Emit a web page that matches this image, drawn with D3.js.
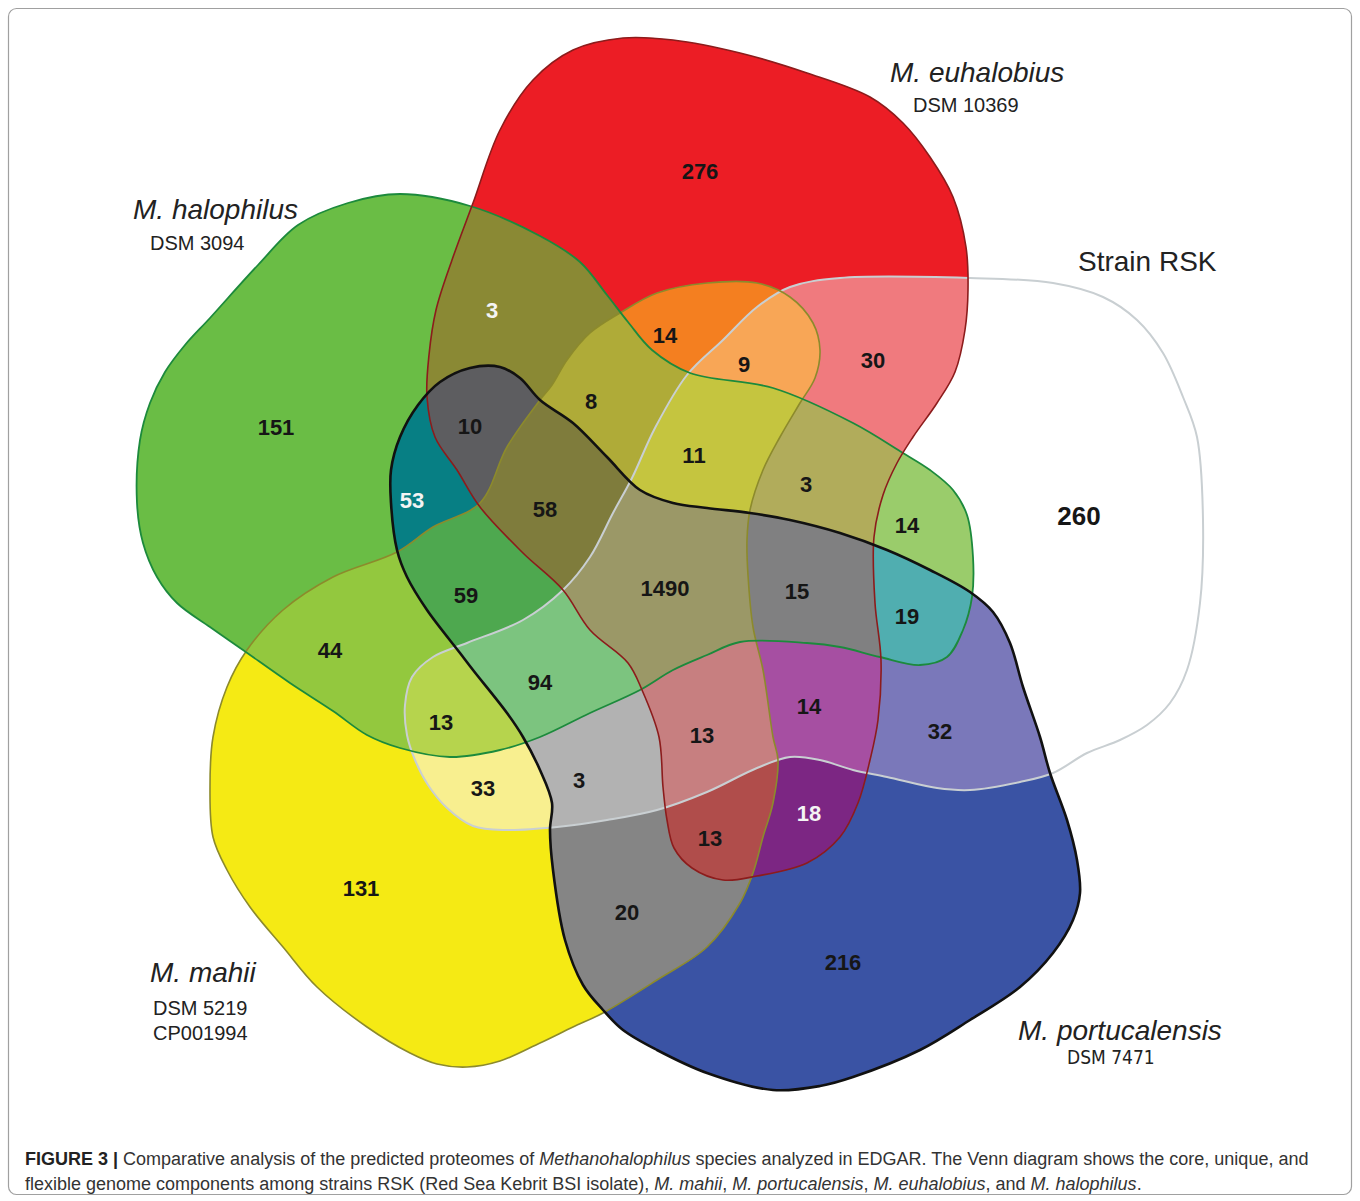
<!DOCTYPE html>
<html>
<head>
<meta charset="utf-8">
<script src="https://cdn.jsdelivr.net/npm/d3@7"></script>
<style>
  body { margin: 0; background: #fff; }
  svg { display: block; font-family: "Liberation Sans", Arial, sans-serif; }
</style>
</head>
<body>
<div id="venn"></div>
<script>
// sets: A = M. halophilus, B = M. euhalobius, C = Strain RSK, D = M. portucalensis, E = M. mahii
var setKeys = ["A", "B", "C", "D", "E"];
var setNames = ["M. halophilus", "M. euhalobius", "Strain RSK", "M. portucalensis", "M. mahii"];
var setStrains = [["DSM 3094"], ["DSM 10369"], [], ["DSM 7471"], ["DSM 5219", "CP001994"]];

// one entry per region of the diagram: which sets it belongs to, and the protein count
var regionSets = ["A", "B", "C", "D", "E",
  "AB", "AC", "AD", "AE", "BC", "BD", "BE", "CD", "CE", "DE",
  "ABC", "ABD", "ABE", "ACD", "ACE", "ADE", "BCD", "BCE", "BDE", "CDE",
  "ABCD", "ABCE", "ABDE", "ACDE", "BCDE",
  "ABCDE"];
var regionCounts = [151, 276, 260, 216, 131,
  3, 14, 53, 44, 30, 18, 14, 32, 33, 20,
  3, 10, 8, 19, 13, 59, 14, 9, 13, 3,
  15, 11, 58, 94, 13,
  1490];

// ---- layout / styling (not data) ----
var W = 1360, H = 1201;

// outline points of each set
var shapes = {
  A: [[400,194],[470,206],[540,236],[580,262],[607,295],[628,322],[652,350],[690,373],[773,388],[853,423],
      [903,453],[930,470],[953,490],[967,515],[973,557],[972,597],[963,630],[947,657],[920,665],[880,657],
      [840,647],[807,643],[740,642],[707,655],[673,670],[640,690],[590,713],[540,737],[500,750],[450,757],
      [400,748],[367,735],[333,711],[290,683],[243,650],[210,627],[177,603],[157,577],[143,543],[137,503],
      [140,440],[150,403],[165,372],[185,345],[210,318],[258,265],[298,225],[348,203]],
  B: [[473,203],[500,130],[533,80],[573,50],[623,38],[673,40],[740,53],[807,73],[870,97],[903,123],
      [930,157],[953,197],[966,247],[968,290],[965,330],[955,372],[937,403],[913,437],[897,463],[883,495],
      [874,537],[875,603],[881,660],[878,720],[870,760],[858,803],[840,837],[807,863],[757,876],[723,880],
      [692,868],[674,848],[667,820],[663,787],[659,737],[642,690],[628,663],[590,630],[563,590],[523,553],
      [480,507],[457,470],[435,437],[427,397],[429,355],[436,310],[452,260]],
  C: [[687,375],[723,340],[757,307],[790,287],[840,278],[970,278],[1053,283],[1103,297],[1137,320],[1163,353],
      [1183,397],[1197,437],[1203,520],[1200,603],[1187,670],[1170,703],[1147,725],[1120,740],[1087,753],[1053,773],
      [1020,782],[970,790],[937,788],[887,777],[853,770],[820,760],[790,757],[757,768],[707,792],[657,810],
      [607,820],[557,827],[507,830],[473,826],[447,808],[428,785],[415,760],[407,735],[405,705],[412,677],
      [433,657],[467,643],[523,620],[563,590],[590,557],[613,513],[632,478],[655,428]],
  D: [[470,368],[500,367],[520,378],[540,400],[573,423],[607,457],[640,490],[673,503],[707,508],[750,513],
      [790,520],[840,533],[887,550],[930,570],[970,592],[993,612],[1010,643],[1023,687],[1040,737],[1050,773],
      [1067,820],[1077,860],[1080,893],[1073,920],[1053,953],[1020,987],[970,1020],[920,1050],[853,1077],[820,1086],
      [773,1090],[707,1073],[657,1050],[623,1030],[603,1010],[583,985],[565,940],[553,870],[550,830],[552,803],
      [540,770],[523,737],[507,713],[473,670],[460,653],[427,610],[407,577],[397,550],[391,503],[391,470],
      [400,437],[418,405],[440,382]],
  E: [[620,313],[657,293],[707,283],[757,283],[790,297],[813,323],[820,350],[815,378],[800,403],[780,437],
      [763,470],[750,510],[747,540],[748,575],[753,627],[763,670],[773,737],[778,760],[773,803],[763,837],
      [753,873],[740,903],[707,947],[657,980],[603,1013],[573,1027],[540,1043],[500,1061],[467,1067],[437,1064],
      [410,1053],[367,1027],[317,987],[283,947],[250,907],[227,870],[213,837],[210,787],[213,737],[227,687],[247,650],
      [283,610],[333,577],[397,552],[433,527],[480,503],[507,447],[540,400],[552,385],[567,360],[590,333]]
};

var setFill = {A: "#6abd45", B: "#ec1d25", C: "#ffffff", D: "#3a53a4", E: "#f5ea14"};
var setStroke = {A: "#1c8a3c", B: "#8c1c1c", C: "#c9cfd2", D: "#111111", E: "#8c8a2c"};
var setStrokeW = {A: 1.8, B: 1.6, C: 2, D: 2.6, E: 1.6};

var regionFill = {
  AB: "#8a8934", AC: "#9acc6b", AD: "#077f84", AE: "#93c83e", BC: "#f07a7e", BD: "#7c2683",
  BE: "#f47f20", CD: "#7a78ba", CE: "#f8ef8f", DE: "#858585",
  ABC: "#b1ac5b", ABD: "#5d5d60", ABE: "#afab38", ACD: "#50aeb0", ACE: "#b6d44d", ADE: "#4ea84f",
  BCD: "#a64fa2", BCE: "#f8a656", BDE: "#b04d4b", CDE: "#b2b2b2",
  ABCD: "#808081", ABCE: "#c5c53f", ABDE: "#7f7c3c", ACDE: "#7cc47f", BCDE: "#c77f80",
  ABCDE: "#9b9867"
};

// label anchor of each region (same order as regionSets)
var labelPos = [[276,427],[700,171],[1079,516],[843,962],[361,888],
  [492,310],[907,525],[412,500],[330,650],[873,360],[809,813],[665,335],[940,731],[483,788],[627,912],
  [806,484],[470,426],[591,401],[907,616],[441,722],[466,595],[809,706],[744,364],[710,838],[579,780],
  [797,591],[694,455],[545,509],[540,682],[702,735],
  [665,588]];
var whiteLabels = ["AB", "AD", "BD"];

var svg = d3.select("#venn").append("svg")
  .attr("width", W)
  .attr("height", H);

svg.append("rect")
  .attr("x", 8.5).attr("y", 8.5)
  .attr("width", W - 17).attr("height", H - 15)
  .attr("rx", 8)
  .attr("fill", "#fff")
  .attr("stroke", "#a0a0a0")
  .attr("stroke-width", 1.2);

var line = d3.line().curve(d3.curveCatmullRomClosed.alpha(0.5));

var defs = svg.append("defs");
setKeys.forEach(function(k) {
  defs.append("clipPath").attr("id", "clip-" + k)
    .append("path").attr("d", line(shapes[k]));
});

// paint intersections from single sets up to all five; later layers win
var regions = regionSets.map(function(s, i) {
  return {key: s, count: regionCounts[i], pos: labelPos[i]};
});
var order = regions.slice().sort(function(a, b) { return a.key.length - b.key.length; });

var fills = svg.append("g");
order.forEach(function(r) {
  var keys = r.key.split("");
  var g = fills;
  keys.slice(0, -1).forEach(function(k) {
    g = g.append("g").attr("clip-path", "url(#clip-" + k + ")");
  });
  var last = keys[keys.length - 1];
  g.append("path")
    .attr("d", line(shapes[last]))
    .attr("fill", keys.length == 1 ? setFill[last] : regionFill[r.key]);
});

// outlines
["C", "E", "A", "B", "D"].forEach(function(k) {
  svg.append("path")
    .attr("d", line(shapes[k]))
    .attr("fill", "none")
    .attr("stroke", setStroke[k])
    .attr("stroke-width", setStrokeW[k]);
});

// counts
svg.append("g").selectAll("text")
  .data(regions)
  .enter().append("text")
    .attr("x", function(d) { return d.pos[0]; })
    .attr("y", function(d) { return d.pos[1]; })
    .attr("text-anchor", "middle")
    .attr("dominant-baseline", "central")
    .style("font-weight", "bold")
    .style("font-size", function(d) { return d.key == "C" ? "26px" : "22px"; })
    .style("fill", function(d) { return whiteLabels.indexOf(d.key) >= 0 ? "#f4f4f4" : "#161616"; })
    .text(function(d) { return d.count; });

// set names
var nameLayout = {
  A: {x: 133, y: 219, sx: 150, sy: 250},
  B: {x: 890, y: 82, sx: 913, sy: 112},
  C: {x: 1078, y: 271},
  D: {x: 1018, y: 1040, sx: 1067, sy: 1064},
  E: {x: 150, y: 982, sx: 153, sy: 1015}
};
setKeys.forEach(function(k, i) {
  var p = nameLayout[k];
  svg.append("text")
    .attr("x", p.x).attr("y", p.y)
    .style("font-size", "28px")
    .style("font-style", k == "C" ? "normal" : "italic")
    .style("fill", "#222")
    .text(setNames[i]);
  setStrains[i].forEach(function(s, j) {
    svg.append("text")
      .attr("x", p.sx).attr("y", p.sy + j * 25)
      .style("font-size", k == "D" ? "19px" : "20px")
      .style("font-family", k == "D" ? "'DejaVu Sans Condensed', 'DejaVu Sans', sans-serif" : null)
      .style("fill", "#222")
      .text(s);
  });
});

// caption
var cap = svg.append("text").attr("x", 25).attr("y", 1165).style("font-size", "18px").style("fill", "#333");
cap.append("tspan").style("font-weight", "bold").style("fill", "#222").text("FIGURE 3 | ");
cap.append("tspan").text("Comparative analysis of the predicted proteomes of ");
cap.append("tspan").style("font-style", "italic").text("Methanohalophilus");
cap.append("tspan").text(" species analyzed in EDGAR. The Venn diagram shows the core, unique, and");
var cap2 = svg.append("text").attr("x", 25).attr("y", 1190).style("font-size", "18px").style("fill", "#333");
cap2.append("tspan").text("flexible genome components among strains RSK (Red Sea Kebrit BSI isolate), ");
cap2.append("tspan").style("font-style", "italic").text("M. mahii");
cap2.append("tspan").text(", ");
cap2.append("tspan").style("font-style", "italic").text("M. portucalensis");
cap2.append("tspan").text(", ");
cap2.append("tspan").style("font-style", "italic").text("M. euhalobius");
cap2.append("tspan").text(", and ");
cap2.append("tspan").style("font-style", "italic").text("M. halophilus");
cap2.append("tspan").text(".");
</script>
</body>
</html>
